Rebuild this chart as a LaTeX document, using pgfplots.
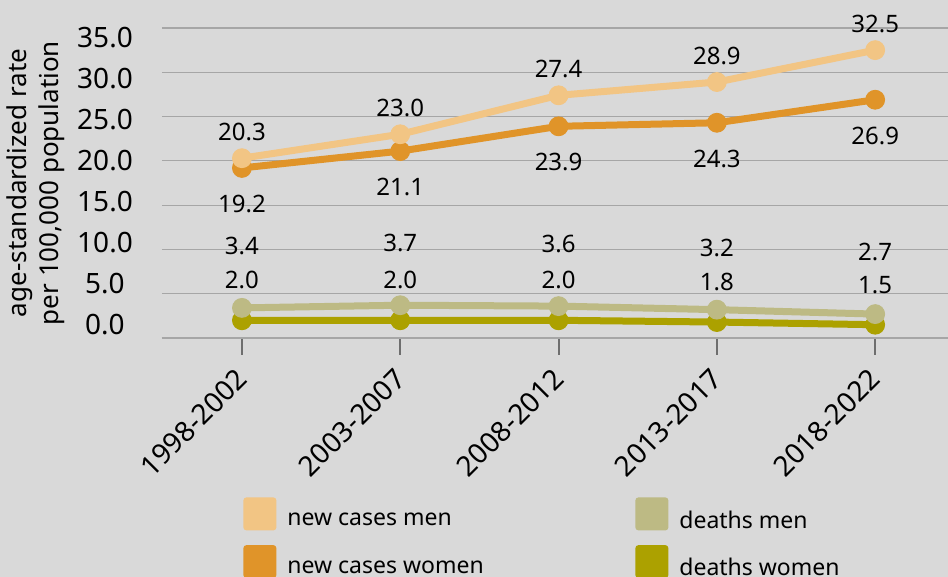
\documentclass[border=0pt]{standalone}
\usepackage{fontspec}
\setmainfont{Noto Sans}
\usepackage{pgfplots}
\usepackage{pgfplotstable}
\pgfplotsset{compat=1.18}
\usetikzlibrary{backgrounds}
\definecolor{ncm}{HTML}{F2C584}
\definecolor{ncw}{HTML}{E09429}
\definecolor{dm}{HTML}{BDBA84}
\definecolor{dw}{HTML}{ACA100}
\definecolor{bgc}{HTML}{D9D9D9}
\definecolor{gridc}{HTML}{A6A6A6}
\definecolor{axisc}{HTML}{6E6E6E}
\pgfplotstableread{
x ncm ncw dm dw
0 20.3 19.2 3.4 2.0
1 23.0 21.1 3.7 2.0
2 27.4 23.9 3.6 2.0
3 28.9 24.3 3.2 1.8
4 32.5 26.9 2.7 1.5
}\datatable
\begin{document}
\begin{tikzpicture}
\begin{axis}[name=ax, scale only axis, width=393pt, height=155pt,
  xmin=-0.505, xmax=4.46, ymin=0, ymax=35, clip=false,
  /pgf/number format/assume math mode=true,
  axis x line*=bottom, axis y line*=left,
  y axis line style={draw=none},
  x axis line style={draw=axisc, line width=1pt},
  xtick={0,1,2,3,4},
  xticklabels={1998-2002,2003-2007,2008-2012,2013-2017,2018-2022},
  xticklabel style={xshift=2.5pt, yshift=-7pt, rotate=45, anchor=east, font=\fontsize{14}{16}\selectfont},
  ytick={1.47,6.11,10.76,15.40,20.04,24.69,29.33,33.97},
  yticklabels={0.0,5.0,10.0,15.0,20.0,25.0,30.0,35.0},
  yticklabel style={anchor=center, xshift=-20pt, font=\fontsize{14}{16}\selectfont},
  extra y ticks={0,5,10,15,20,25,30,35},
  extra y tick labels={},
  extra y tick style={grid=major, tick style={draw=none}},
  major grid style={draw=gridc, line width=0.6pt},
  ytick style={draw=none},
  xtick style={draw=axisc, line width=1pt},
  tick align=outside, major tick length=8.5pt,
  ylabel={age-standardized rate\\per 100,000 population},
  every axis y label/.style={at={([xshift=-63pt]axis description cs:0,0.5)}, rotate=90, anchor=center},
  ylabel style={align=center, font=\fontsize{13}{16}\selectfont},
  legend image code/.code={\fill[#1, draw=none, rounded corners=1.5pt] (0pt,-4.75pt) rectangle (16.5pt,11.75pt);},
  legend columns=2,
  legend cell align=left,
  legend style={at={(axis description cs:0,0)}, anchor=north west, xshift=40.5pt, yshift=-79.5pt,
    draw=none, fill=none, inner sep=0pt, row sep=7pt,
    font=\fontsize{11.5}{13}\selectfont, nodes={inner sep=0pt},
    /tikz/every odd column/.append style={column sep=5.5pt}},
  point meta=y,
  nodes near coords={\pgfmathprintnumber[fixed,fixed zerofill,precision=1]{\pgfplotspointmeta}},
]
\addplot[ncw, line width=3.5pt, mark=*, mark size=4.7pt, mark options={solid, line width=0.5pt}, forget plot,
  every node near coord/.style={anchor=center, yshift=-18pt, text=black, font=\fontsize{12}{14}\selectfont}]
  table[x=x, y=ncw]{\datatable};
\addplot[ncm, line width=3.5pt, mark=*, mark size=4.7pt, mark options={solid, line width=0.5pt}, forget plot,
  every node near coord/.style={anchor=center, yshift=13pt, text=black, font=\fontsize{12}{14}\selectfont}]
  table[x=x, y=ncm]{\datatable};
\addplot[dw, line width=3.5pt, mark=*, mark size=4.7pt, mark options={solid, line width=0.5pt}, forget plot,
  every node near coord/.style={anchor=center, yshift=20pt, text=black, font=\fontsize{12}{14}\selectfont}]
  table[x=x, y=dw]{\datatable};
\addplot[dm, line width=3.5pt, mark=*, mark size=4.7pt, mark options={solid, line width=0.5pt}, forget plot,
  every node near coord/.style={anchor=center, yshift=31pt, text=black, font=\fontsize{12}{14}\selectfont}]
  table[x=x, y=dm]{\datatable};
\addlegendimage{fill=ncm}
\addlegendentry{\makebox[174pt][l]{new cases men}}
\addlegendimage{fill=dm}
\addlegendentry{deaths men}
\addlegendimage{fill=ncw}
\addlegendentry{\makebox[174pt][l]{new cases women}}
\addlegendimage{fill=dw}
\addlegendentry{deaths women}
\end{axis}
\begin{scope}[on background layer]
\fill[bgc] ([xshift=-81pt,yshift=-119.5pt]ax.south west) rectangle ([yshift=14pt]ax.north east);
\end{scope}
\pgfresetboundingbox
\useasboundingbox ([xshift=-81pt,yshift=-119.5pt]ax.south west) rectangle ([yshift=14pt]ax.north east);
\end{tikzpicture}
\end{document}
